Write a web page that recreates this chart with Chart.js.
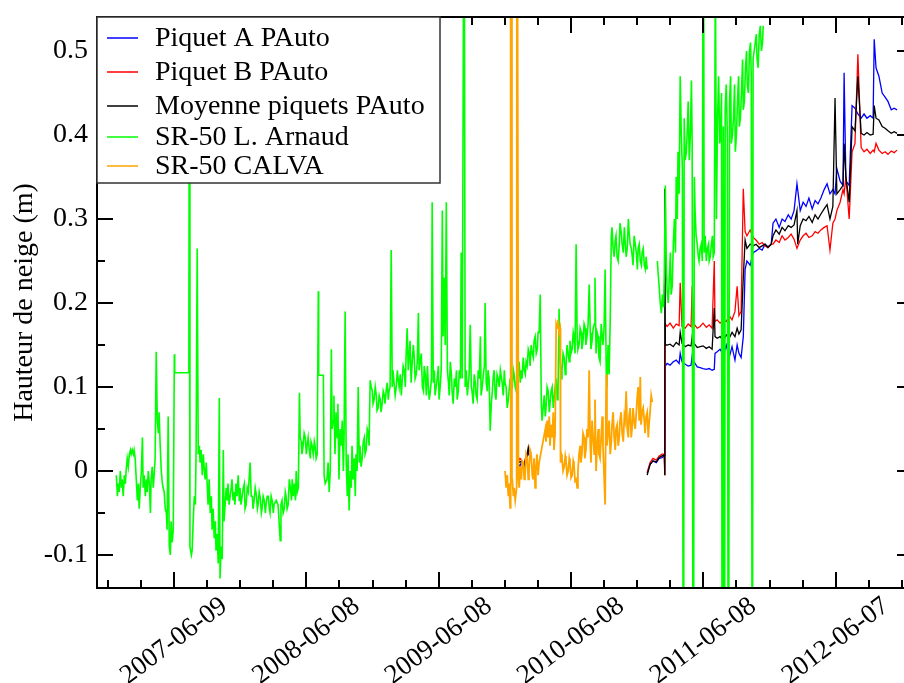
<!DOCTYPE html>
<html>
<head>
<meta charset="utf-8">
<script src="https://cdn.jsdelivr.net/npm/chart.js@4.4.1/dist/chart.umd.min.js"></script>
<style>
  html, body { margin: 0; padding: 0; overflow: hidden; background: #fff; }
  canvas { display: block; }
</style>
</head>
<body>
<canvas id="snow" width="920" height="683"></canvas>
<script>
// x values are days since 2007-06-09, y values are snow depth in metres
const xTickLabels = ['2007-06-09', '2008-06-08', '2009-06-08', '2010-06-08', '2011-06-08', '2012-06-07'];
const xTickDays = [0, 365, 730, 1095, 1460, 1825];
const xRange = [-212.3, 2038];
const yRange = [-0.1393, 0.5405];

const seriesLabels = ['Piquet A PAuto', 'Piquet B PAuto', 'Moyenne piquets PAuto', 'SR-50 L. Arnaud', 'SR-50 CALVA'];
const seriesColors = ['#0000ff', '#ff0000', '#000000', '#00ff00', '#ffa500'];

const piquetA = [
  [947, 0.0], [950, 0.008], [954, 0.006], [958, 0.01], [961, 0.004], [965, 0.003], [969, 0.01], [973, 0.016], [977, 0.022], [980, 0.018],
  [1100, null],
  [1305, -0.002], [1313, 0.008], [1321, 0.012], [1330, 0.01], [1338, 0.015], [1346, 0.016], [1352, 0.018], [1354, 0.02], [1355, 0.125],
  [1360, 0.128], [1368, 0.126], [1377, 0.13], [1385, 0.132], [1393, 0.128], [1396, 0.14], [1401, 0.13], [1410, 0.127], [1418, 0.125],
  [1426, 0.126], [1429, 0.137], [1434, 0.13], [1443, 0.124], [1451, 0.123], [1459, 0.122], [1468, 0.121], [1476, 0.122], [1484, 0.12],
  [1490, 0.121], [1492, 0.14], [1498, 0.142], [1506, 0.145], [1515, 0.138], [1523, 0.15], [1531, 0.135], [1539, 0.148], [1547, 0.132],
  [1553, 0.15], [1558, 0.14], [1564, 0.135], [1570, 0.16], [1575, 0.24], [1580, 0.25], [1589, 0.245], [1597, 0.26], [1605, 0.262],
  [1614, 0.265], [1622, 0.263], [1630, 0.27], [1638, 0.267], [1647, 0.27], [1652, 0.295], [1660, 0.3], [1669, 0.29], [1677, 0.3],
  [1685, 0.297], [1694, 0.305], [1702, 0.3], [1710, 0.31], [1718, 0.342], [1727, 0.31], [1735, 0.32], [1743, 0.315], [1751, 0.325],
  [1760, 0.312], [1768, 0.322], [1776, 0.318], [1784, 0.325], [1793, 0.335], [1801, 0.342], [1809, 0.33], [1817, 0.335], [1823, 0.33],
  [1828, 0.36], [1837, 0.345], [1845, 0.34], [1848, 0.474], [1853, 0.345], [1862, 0.34], [1870, 0.435], [1878, 0.432], [1886, 0.425],
  [1895, 0.42], [1903, 0.425], [1911, 0.42], [1920, 0.423], [1928, 0.42], [1931, 0.514], [1936, 0.48], [1944, 0.47], [1953, 0.45],
  [1961, 0.445], [1969, 0.44], [1978, 0.43], [1986, 0.432], [1994, 0.43]
];

const piquetB = [
  [947, -0.003], [950, 0.012], [954, 0.015], [958, 0.013], [961, 0.01], [965, 0.008], [969, 0.015], [973, 0.02], [977, 0.024], [980, 0.022],
  [1100, null],
  [1305, -0.002], [1313, 0.01], [1321, 0.015], [1330, 0.013], [1338, 0.018], [1346, 0.02], [1352, 0.02], [1354, -0.005], [1355, 0.175],
  [1360, 0.172], [1368, 0.176], [1377, 0.17], [1385, 0.175], [1393, 0.173], [1396, 0.224], [1401, 0.172], [1410, 0.17], [1418, 0.175],
  [1426, 0.172], [1429, 0.22], [1434, 0.175], [1443, 0.17], [1451, 0.172], [1459, 0.176], [1468, 0.171], [1476, 0.174], [1484, 0.17],
  [1490, 0.25], [1492, 0.178], [1498, 0.18], [1506, 0.176], [1515, 0.18], [1523, 0.178], [1531, 0.185], [1539, 0.18], [1547, 0.19],
  [1553, 0.22], [1558, 0.185], [1564, 0.19], [1570, 0.336], [1575, 0.285], [1580, 0.28], [1589, 0.287], [1597, 0.278], [1605, 0.275],
  [1614, 0.27], [1622, 0.272], [1630, 0.268], [1638, 0.266], [1647, 0.27], [1652, 0.27], [1660, 0.275], [1669, 0.272], [1677, 0.28],
  [1685, 0.275], [1694, 0.278], [1702, 0.282], [1710, 0.276], [1718, 0.265], [1727, 0.275], [1735, 0.28], [1743, 0.283], [1751, 0.278],
  [1760, 0.28], [1768, 0.285], [1776, 0.283], [1784, 0.287], [1793, 0.29], [1801, 0.292], [1809, 0.263], [1817, 0.295], [1823, 0.3],
  [1828, 0.31], [1837, 0.32], [1845, 0.335], [1848, 0.33], [1853, 0.35], [1862, 0.3], [1870, 0.38], [1878, 0.39], [1886, 0.496],
  [1895, 0.385], [1903, 0.38], [1911, 0.383], [1920, 0.378], [1928, 0.382], [1931, 0.38], [1936, 0.39], [1944, 0.382], [1953, 0.378],
  [1961, 0.38], [1969, 0.377], [1978, 0.381], [1986, 0.379], [1994, 0.382]
];

const moyenne = [
  [947, -0.002], [950, 0.01], [954, 0.011], [958, 0.011], [961, 0.007], [965, 0.005], [969, 0.012], [973, 0.018], [977, 0.028], [980, 0.02],
  [1100, null],
  [1305, -0.005], [1313, 0.008], [1321, 0.012], [1330, 0.011], [1338, 0.016], [1346, 0.018], [1352, 0.019], [1353, -0.005], [1354, 0.336],
  [1355, 0.15], [1360, 0.15], [1368, 0.151], [1377, 0.148], [1385, 0.153], [1393, 0.15], [1396, 0.165], [1401, 0.152], [1410, 0.148],
  [1418, 0.15], [1426, 0.149], [1429, 0.16], [1434, 0.152], [1443, 0.147], [1451, 0.148], [1459, 0.149], [1468, 0.146], [1476, 0.148],
  [1484, 0.145], [1490, 0.194], [1492, 0.16], [1498, 0.158], [1506, 0.16], [1515, 0.155], [1523, 0.162], [1531, 0.158], [1539, 0.165],
  [1547, 0.16], [1553, 0.17], [1558, 0.163], [1564, 0.168], [1570, 0.23], [1575, 0.275], [1580, 0.265], [1589, 0.27], [1597, 0.268],
  [1605, 0.27], [1614, 0.266], [1622, 0.268], [1630, 0.27], [1638, 0.266], [1647, 0.27], [1652, 0.28], [1660, 0.287], [1669, 0.282],
  [1677, 0.29], [1685, 0.286], [1694, 0.292], [1702, 0.29], [1710, 0.293], [1718, 0.31], [1720, 0.27], [1727, 0.292], [1735, 0.3],
  [1743, 0.298], [1751, 0.303], [1760, 0.296], [1768, 0.305], [1776, 0.3], [1784, 0.306], [1793, 0.312], [1801, 0.317], [1809, 0.3],
  [1817, 0.315], [1823, 0.444], [1828, 0.33], [1837, 0.335], [1845, 0.34], [1848, 0.39], [1853, 0.35], [1862, 0.32], [1870, 0.41],
  [1878, 0.405], [1886, 0.47], [1895, 0.402], [1903, 0.4], [1911, 0.403], [1920, 0.4], [1928, 0.401], [1931, 0.435], [1936, 0.42],
  [1944, 0.418], [1953, 0.41], [1961, 0.408], [1969, 0.405], [1978, 0.402], [1986, 0.404], [1994, 0.402]
];

const arnaud = [
  [-159, -0.005], [-156, -0.03], [-154, -0.015], [-151, -0.025], [-148, 0.0], [-145, -0.02], [-143, -0.01], [-140, -0.03], [-137, -0.005],
  [-134, -0.015], [-132, 0.0], [-129, 0.015], [-126, 0.005], [-123, 0.02], [-120, 0.025], [-118, 0.02], [-115, 0.025], [-112, 0.02],
  [-110, 0.025], [-107, 0.015], [-104, -0.01], [-101, -0.035], [-98, -0.015], [-96, -0.045], [-93, -0.02], [-90, 0.0], [-87, 0.04],
  [-85, -0.02], [-82, -0.005], [-79, -0.03], [-76, -0.01], [-74, -0.025], [-71, 0.0], [-68, -0.015], [-65, -0.05], [-63, -0.01],
  [-60, 0.005], [-57, -0.02], [-54, 0.0], [-52, 0.015], [-49, 0.142], [-46, 0.06], [-43, 0.045], [-41, 0.07], [-38, 0.03], [-35, 0.0],
  [-32, -0.015], [-30, -0.02], [-27, -0.025], [-24, -0.045], [-21, -0.05], [-19, -0.07], [-16, 0.065], [-13, -0.09], [-10, -0.1],
  [-8, -0.06], [-5, -0.085], [-2, -0.07], [1, 0.139], [2, 0.117], [41, 0.117], [42, 0.45], [44, -0.09], [48, -0.1], [50, -0.095],
  [53, -0.06], [56, -0.03], [59, -0.04], [61, 0.025], [64, 0.265], [67, 0.02], [70, 0.03], [72, 0.01], [75, 0.025], [78, -0.005],
  [81, 0.02], [83, 0.005], [86, -0.01], [89, 0.01], [92, -0.02], [94, -0.04], [97, -0.01], [100, -0.05], [103, -0.03], [105, -0.07],
  [108, -0.045], [111, -0.08], [114, -0.06], [116, -0.095], [119, -0.075], [122, -0.11], [125, 0.087], [127, -0.128], [130, -0.09],
  [133, -0.105], [136, 0.025], [138, -0.06], [141, -0.04], [144, -0.02], [147, -0.035], [149, -0.015], [152, -0.04], [155, -0.03],
  [158, -0.02], [160, -0.01], [163, -0.035], [166, -0.025], [168, -0.04], [171, -0.015], [174, -0.03], [177, -0.005], [180, -0.035],
  [182, -0.02], [185, -0.04], [188, -0.03], [191, -0.02], [194, -0.015], [196, -0.045], [199, -0.04], [202, -0.02], [205, -0.025],
  [210, 0.01], [213, -0.03], [216, -0.03], [218, -0.045], [221, -0.035], [224, -0.02], [227, -0.028], [230, -0.045], [232, -0.04],
  [235, -0.025], [238, -0.032], [241, -0.05], [243, -0.045], [246, -0.03], [249, -0.035], [252, -0.05], [254, -0.04], [257, -0.03],
  [260, -0.03], [263, -0.045], [265, -0.05], [268, -0.03], [271, -0.036], [274, -0.05], [276, -0.04], [282, -0.035], [287, -0.04],
  [293, -0.083], [295, -0.04], [298, -0.035], [301, -0.05], [304, -0.045], [307, -0.025], [309, -0.03], [312, -0.045], [315, -0.04],
  [318, -0.01], [321, -0.02], [324, -0.035], [326, -0.01], [329, -0.03], [332, -0.015], [335, -0.035], [337, 0.0], [340, -0.025],
  [343, -0.02], [346, 0.093], [348, 0.04], [351, 0.035], [353, 0.02], [356, 0.03], [359, 0.045], [362, 0.04], [365, 0.02], [367, 0.03],
  [370, 0.04], [373, 0.025], [376, 0.015], [378, 0.035], [381, 0.03], [384, 0.02], [387, 0.035], [389, 0.03], [392, 0.015], [395, 0.02],
  [398, 0.214], [399, 0.114], [412, 0.114], [414, -0.005], [417, -0.015], [422, -0.01], [425, 0.01], [428, -0.025], [431, 0.0],
  [434, 0.145], [436, 0.05], [439, 0.06], [441, 0.09], [444, 0.02], [447, 0.07], [450, 0.04], [452, 0.08], [455, -0.01], [458, 0.05],
  [461, 0.03], [464, 0.06], [467, 0.0], [469, 0.04], [472, 0.19], [475, 0.01], [478, -0.03], [480, 0.02], [483, -0.047], [486, 0.0],
  [489, -0.02], [491, 0.03], [494, -0.01], [497, 0.015], [500, -0.03], [502, 0.02], [505, 0.0], [508, 0.1], [511, 0.01], [513, 0.03],
  [516, 0.005], [519, 0.015], [522, 0.035], [525, 0.04], [527, 0.02], [530, 0.025], [533, 0.05], [536, 0.045], [538, 0.03],
  [541, 0.108], [544, 0.1], [547, 0.095], [549, 0.08], [552, 0.085], [555, 0.1], [558, 0.09], [560, 0.072], [563, 0.075], [566, 0.09],
  [569, 0.085], [571, 0.07], [574, 0.08], [577, 0.095], [580, 0.09], [582, 0.08], [585, 0.095], [588, 0.105], [591, 0.085],
  [593, 0.095], [596, 0.1], [599, 0.263], [602, 0.1], [604, 0.12], [607, 0.105], [610, 0.09], [613, 0.1], [616, 0.12], [618, 0.11],
  [621, 0.1], [624, 0.115], [627, 0.09], [629, 0.105], [632, 0.125], [635, 0.12], [638, 0.1], [640, 0.135], [643, 0.17], [646, 0.12],
  [649, 0.14], [651, 0.155], [654, 0.105], [657, 0.13], [660, 0.15], [662, 0.14], [665, 0.11], [668, 0.115], [671, 0.13], [674, 0.188],
  [676, 0.12], [679, 0.13], [682, 0.14], [685, 0.1], [688, 0.095], [690, 0.125], [693, 0.115], [696, 0.09], [699, 0.125], [701, 0.105],
  [704, 0.085], [707, 0.095], [710, 0.11], [712, 0.32], [715, 0.105], [718, 0.12], [720, 0.09], [723, 0.1], [726, 0.11], [729, 0.125],
  [731, 0.085], [734, 0.1], [737, 0.12], [740, 0.31], [742, 0.16], [745, 0.23], [748, 0.15], [751, 0.32], [754, 0.12], [757, 0.105],
  [759, 0.09], [762, 0.13], [765, 0.115], [767, 0.095], [770, 0.08], [773, 0.11], [776, 0.1], [779, 0.12], [781, 0.085], [784, 0.095],
  [787, 0.12], [790, 0.11], [792, 0.26], [795, 0.11], [800, 0.8], [803, 0.1], [806, 0.12], [809, 0.09], [811, 0.1], [814, 0.115],
  [817, 0.174], [820, 0.1], [822, 0.095], [825, 0.08], [828, 0.115], [831, 0.105], [833, 0.09], [836, 0.085], [839, 0.12], [842, 0.11],
  [845, 0.16], [847, 0.09], [850, 0.1], [853, 0.115], [856, 0.125], [858, 0.2], [861, 0.105], [864, 0.095], [866, 0.12], [869, 0.11],
  [872, 0.048], [875, 0.08], [878, 0.095], [880, 0.11], [883, 0.12], [886, 0.09], [888, 0.085], [891, 0.115], [894, 0.11], [897, 0.1],
  [900, 0.12], [905, 0.105], [908, 0.09], [911, 0.12], [913, 0.105], [916, 0.1], [919, 0.075], [922, 0.085], [925, 0.1], [927, 0.11],
  [930, 0.095], [933, 0.1], [936, 0.12], [938, 0.115], [941, 0.1], [944, 0.095], [946, 0.12], [949, 0.11], [952, 0.13], [955, 0.105],
  [957, 0.12], [960, 0.11], [963, 0.135], [966, 0.12], [969, 0.115], [971, 0.13], [974, 0.125], [977, 0.145], [980, 0.14],
  [982, 0.125], [985, 0.15], [988, 0.14], [991, 0.135], [993, 0.155], [996, 0.16], [999, 0.14], [1002, 0.145], [1004, 0.165],
  [1007, 0.165], [1010, 0.21], [1013, 0.08], [1015, 0.06], [1018, 0.075], [1021, 0.09], [1024, 0.065], [1026, 0.075], [1029, 0.1],
  [1032, 0.095], [1035, 0.07], [1037, 0.08], [1040, 0.095], [1043, 0.1], [1046, 0.075], [1048, 0.085], [1051, 0.1], [1054, 0.11],
  [1057, 0.085], [1059, 0.09], [1062, 0.193], [1065, 0.13], [1068, 0.11], [1070, 0.12], [1073, 0.14], [1076, 0.135], [1079, 0.115],
  [1081, 0.125], [1084, 0.15], [1087, 0.14], [1090, 0.13], [1092, 0.155], [1095, 0.14], [1098, 0.145], [1101, 0.165], [1103, 0.16],
  [1106, 0.14], [1109, 0.27], [1112, 0.155], [1114, 0.145], [1117, 0.15], [1120, 0.17], [1123, 0.165], [1125, 0.145], [1128, 0.155],
  [1131, 0.175], [1134, 0.17], [1136, 0.15], [1139, 0.16], [1142, 0.175], [1145, 0.222], [1148, 0.165], [1150, 0.145], [1153, 0.155],
  [1156, 0.17], [1159, 0.175], [1161, 0.23], [1164, 0.14], [1167, 0.165], [1170, 0.16], [1172, 0.135], [1175, 0.13], [1178, 0.175],
  [1181, 0.16], [1183, 0.15], [1186, 0.17], [1189, 0.24], [1192, 0.12], [1194, 0.1], [1197, 0.15], [1200, 0.115], [1203, 0.18],
  [1206, 0.28], [1208, 0.29], [1211, 0.265], [1214, 0.255], [1217, 0.275], [1219, 0.28], [1222, 0.255], [1225, 0.25], [1228, 0.27],
  [1230, 0.295], [1233, 0.285], [1236, 0.27], [1239, 0.26], [1242, 0.29], [1244, 0.275], [1247, 0.255], [1250, 0.265], [1253, 0.3],
  [1255, 0.285], [1258, 0.27], [1261, 0.265], [1264, 0.255], [1266, 0.245], [1269, 0.28], [1272, 0.27], [1275, 0.26], [1278, 0.24],
  [1280, 0.265], [1283, 0.27], [1286, 0.25], [1289, 0.245], [1291, 0.26], [1294, 0.265], [1297, 0.245], [1300, 0.24], [1302, 0.255],
  [1305, 0.24], [1318, null], [1333, 0.25], [1336, 0.23], [1338, 0.22], [1341, 0.2], [1344, 0.188], [1347, 0.21], [1350, 0.195],
  [1352, 0.23], [1355, 0.34], [1358, 0.24], [1360, 0.215], [1363, 0.2], [1366, 0.23], [1369, 0.26], [1371, 0.21], [1374, 0.22],
  [1377, 0.27], [1380, 0.3], [1383, 0.26], [1385, 0.35], [1388, 0.3], [1390, 0.38], [1393, 0.33], [1396, 0.47], [1399, 0.4],
  [1402, 0.36], [1405, -0.5], [1407, 0.42], [1410, 0.37], [1413, 0.38], [1416, 0.41], [1418, 0.44], [1421, 0.37], [1424, 0.4],
  [1427, 0.465], [1429, 0.39], [1432, -0.5], [1435, 0.35], [1437, 0.31], [1440, 0.28], [1443, 0.27], [1446, 0.255], [1448, 0.25],
  [1451, 0.265], [1454, 0.27], [1457, 0.25], [1460, 0.8], [1462, 0.26], [1465, 0.28], [1468, 0.25], [1471, 0.265], [1474, 0.27],
  [1476, 0.25], [1479, 0.255], [1482, 0.27], [1485, 0.28], [1487, 0.255], [1490, 0.26], [1493, 0.6], [1496, 0.3], [1499, 0.42],
  [1502, 0.47], [1505, 0.39], [1507, 0.4], [1510, 0.45], [1512, -0.5], [1515, 0.41], [1518, -0.5], [1520, 0.43], [1523, 0.46],
  [1526, 0.4], [1529, -0.5], [1532, 0.44], [1535, 0.47], [1537, 0.39], [1540, 0.4], [1543, 0.42], [1546, 0.46], [1548, 0.38],
  [1551, 0.4], [1554, 0.44], [1557, 0.47], [1559, 0.41], [1562, 0.42], [1565, 0.45], [1568, 0.49], [1570, 0.43], [1573, 0.44],
  [1576, 0.48], [1579, 0.5], [1581, 0.46], [1584, 0.45], [1587, 0.5], [1590, 0.51], [1592, 0.47], [1595, -0.5], [1597, 0.49],
  [1600, 0.5], [1603, 0.51], [1606, 0.52], [1608, 0.49], [1611, 0.48], [1614, 0.52], [1617, 0.53], [1620, 0.5], [1623, 0.51],
  [1625, 0.53]
];

const calva = [
  [913, 0.0], [916, -0.02], [919, -0.005], [922, -0.03], [924, -0.015], [927, -0.044], [928, -0.03], [929, 0.9], [931, 0.9],
  [932, -0.01], [933, -0.01], [936, -0.03], [938, -0.02], [941, -0.035], [945, -0.02], [946, 0.9], [948, 0.9], [950, -0.01],
  [952, -0.02], [955, 0.005], [958, -0.01], [960, 0.012], [963, 0.01], [966, -0.01], [968, -0.005], [971, 0.02], [974, 0.015],
  [977, -0.01], [979, 0.0], [982, 0.025], [985, 0.02], [988, -0.005], [990, -0.01], [993, 0.015], [996, -0.02], [998, 0.0],
  [1001, 0.02], [1004, -0.005], [1007, 0.01], [1024, 0.05], [1026, 0.035], [1029, 0.06], [1032, 0.04], [1035, 0.065], [1037, 0.03],
  [1040, 0.055], [1043, 0.04], [1046, 0.07], [1048, 0.025], [1051, 0.045], [1054, 0.175], [1057, 0.17], [1059, 0.18], [1062, 0.165],
  [1065, 0.17], [1066, 0.01], [1068, 0.02], [1070, 0.015], [1073, 0.0], [1076, 0.005], [1079, 0.018], [1081, 0.012], [1084, -0.005],
  [1087, 0.0], [1090, 0.015], [1092, 0.01], [1095, -0.008], [1098, -0.005], [1101, 0.012], [1103, 0.008], [1106, -0.012],
  [1109, -0.01], [1112, -0.02], [1114, 0.0], [1117, 0.02], [1120, 0.03], [1122, 0.01], [1125, 0.02], [1128, 0.045], [1131, 0.04],
  [1133, 0.015], [1136, 0.025], [1139, 0.05], [1142, 0.04], [1145, 0.12], [1148, 0.03], [1150, 0.01], [1153, 0.06], [1156, 0.04],
  [1159, 0.02], [1161, 0.085], [1164, 0.0], [1167, 0.03], [1170, 0.05], [1172, 0.02], [1175, 0.015], [1178, 0.04], [1181, 0.065],
  [1183, 0.03], [1186, -0.005], [1189, -0.04], [1192, 0.115], [1194, 0.03], [1197, 0.045], [1200, 0.06], [1203, 0.02], [1206, 0.035],
  [1208, 0.055], [1211, 0.07], [1214, 0.04], [1217, 0.025], [1219, 0.05], [1222, 0.055], [1225, 0.03], [1228, 0.04], [1230, 0.06],
  [1233, 0.07], [1236, 0.045], [1239, 0.035], [1242, 0.065], [1244, 0.06], [1247, 0.095], [1250, 0.05], [1253, 0.04], [1255, 0.065],
  [1258, 0.075], [1261, 0.04], [1264, 0.055], [1266, 0.075], [1269, 0.06], [1272, 0.05], [1275, 0.07], [1277, 0.085], [1280, 0.1],
  [1283, 0.06], [1286, 0.112], [1288, 0.055], [1291, 0.07], [1294, 0.075], [1297, 0.06], [1299, 0.045], [1302, 0.065], [1305, 0.07],
  [1308, 0.04], [1310, 0.055], [1313, 0.07], [1316, 0.09], [1319, 0.082]
];

const seriesData = [piquetA, piquetB, moyenne, arnaud, calva];
const seriesWidths = [1.3, 1.3, 1.3, 1.6, 1.8];
// grace draws the sets in order, so the later ones sit on top
const seriesOrder = [5, 4, 3, 2, 1];

const FONT = '"Liberation Serif", "Times New Roman", serif';

const isMultiple = (v, step) => Math.abs(v / step - Math.round(v / step)) < 1e-6;

const framePlugin = {
  id: 'frame',
  afterDraw(chart) {
    const { ctx, chartArea: a, scales: { x, y } } = chart;
    ctx.save();
    ctx.strokeStyle = '#000';
    ctx.lineWidth = 2;
    ctx.strokeRect(a.left, a.top, a.right - a.left, a.bottom - a.top);

    ctx.beginPath();
    x.ticks.forEach(t => {
      const px = Math.round(x.getPixelForValue(t.value));
      const len = isMultiple(t.value, 365) ? 16 : 8;
      ctx.moveTo(px, a.bottom); ctx.lineTo(px, a.bottom - len);
      ctx.moveTo(px, a.top); ctx.lineTo(px, a.top + len);
    });
    y.ticks.forEach(t => {
      const py = Math.round(y.getPixelForValue(t.value));
      const len = isMultiple(t.value, 0.1) ? 16 : 8;
      ctx.moveTo(a.left, py); ctx.lineTo(a.left + len, py);
      ctx.moveTo(a.right, py); ctx.lineTo(a.right - len, py);
    });
    ctx.stroke();

    // rotated date labels, centred on their tick
    ctx.fillStyle = '#000';
    ctx.font = '27px ' + FONT;
    ctx.textAlign = 'center';
    ctx.textBaseline = 'middle';
    xTickLabels.forEach((lbl, i) => {
      const px = x.getPixelForValue(xTickDays[i]);
      ctx.save();
      ctx.translate(px, 641);
      ctx.rotate(-37 * Math.PI / 180);
      ctx.fillText(lbl, 0, 0);
      ctx.restore();
    });

    // legend box in the top left corner
    const box = { left: a.left, top: a.top, right: 440, bottom: 183 };
    ctx.fillStyle = '#fff';
    ctx.fillRect(box.left, box.top, box.right - box.left, box.bottom - box.top);
    ctx.strokeStyle = '#333';
    ctx.lineWidth = 1.5;
    ctx.strokeRect(box.left, box.top, box.right - box.left, box.bottom - box.top);
    const rows = [38, 72, 106, 137, 166];
    ctx.font = '28px ' + FONT;
    ctx.textAlign = 'left';
    ctx.textBaseline = 'alphabetic';
    chart.data.datasets.forEach((ds, i) => {
      ctx.strokeStyle = ds.borderColor;
      ctx.lineWidth = 1.5;
      ctx.beginPath();
      ctx.moveTo(107, rows[i]);
      ctx.lineTo(138, rows[i]);
      ctx.stroke();
      ctx.fillStyle = '#000';
      ctx.fillText(ds.label, 155, rows[i] + 8);
    });
    ctx.restore();
  }
};

const ctx = document.getElementById('snow').getContext('2d');

new Chart(ctx, {
  type: 'line',
  data: {
    datasets: seriesData.map((arr, i) => ({
      label: seriesLabels[i],
      data: arr.map(([d, v]) => ({ x: d, y: v })),
      borderColor: seriesColors[i],
      borderWidth: seriesWidths[i],
      order: seriesOrder[i],
      pointRadius: 0,
      fill: false,
      spanGaps: false,
      tension: 0,
      clip: 0
    }))
  },
  options: {
    responsive: false,
    animation: false,
    devicePixelRatio: 1,
    layout: { padding: { top: 17, right: 7, left: 0, bottom: 0 } },
    plugins: {
      legend: { display: false },
      tooltip: { enabled: false }
    },
    scales: {
      x: {
        type: 'linear',
        min: xRange[0],
        max: xRange[1],
        grid: { display: false },
        border: { display: false },
        ticks: { display: false, stepSize: 91.25, includeBounds: false },
        afterFit: scale => { scale.height = 95; }
      },
      y: {
        type: 'linear',
        min: yRange[0],
        max: yRange[1],
        grid: { display: false, drawTicks: false },
        border: { display: false },
        ticks: {
          stepSize: 0.05,
          includeBounds: false,
          autoSkip: false,
          padding: 9,
          color: '#000',
          font: { family: FONT, size: 28 },
          callback: v => {
            if (!isMultiple(v, 0.1)) return '';
            return Math.abs(v) < 1e-9 ? '0' : v.toFixed(1);
          }
        },
        title: {
          display: true,
          text: 'Hauteur de neige (m)',
          color: '#000',
          font: { family: FONT, size: 28 },
          padding: { top: 8, bottom: 0 }
        },
        afterFit: scale => {
          scale.width = 97;
          // labels sit well inside the range, no extra room needed above or below
          scale.paddingTop = 0;
          scale.paddingBottom = 0;
        }
      }
    }
  },
  plugins: [framePlugin]
});
</script>
</body>
</html>
